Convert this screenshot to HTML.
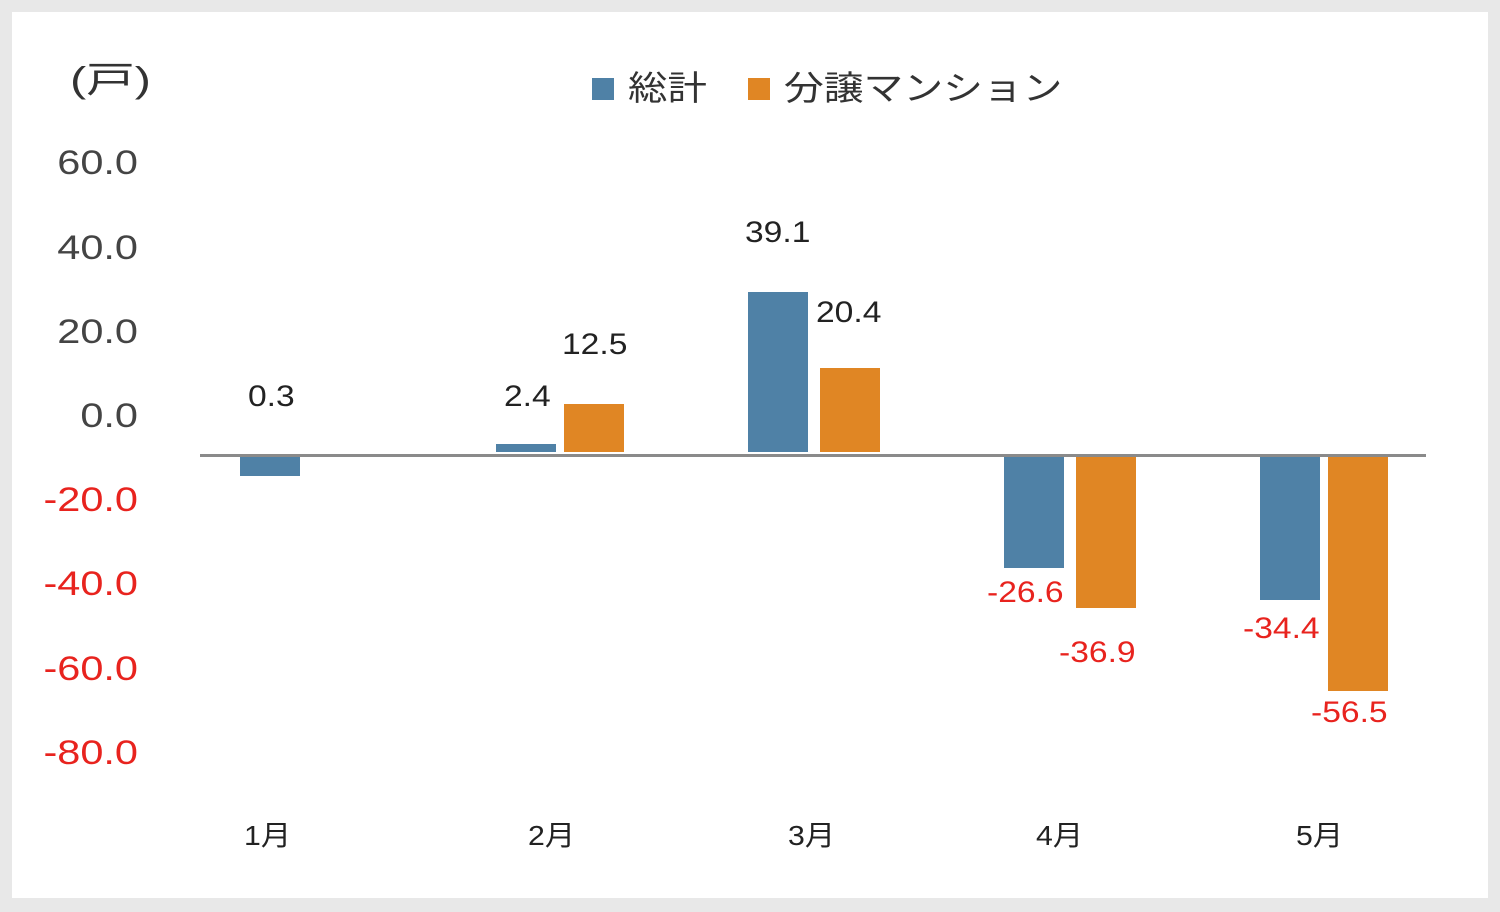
<!DOCTYPE html>
<html><head><meta charset="utf-8"><style>
body{margin:0;width:1500px;height:912px;background:#e8e8e8;overflow:hidden;font-family:"Liberation Sans","Noto Sans CJK JP",sans-serif;}
#p{position:absolute;left:12px;top:12px;width:1476px;height:886px;background:#fff;}
.t{position:absolute;white-space:nowrap;line-height:1;transform-origin:left top;}
.y{font-size:34px;color:#444;width:120px;text-align:right;left:18px;transform:scaleX(1.22);transform-origin:right top;}
.b{position:absolute;}
.bl{background:#4f81a6;}.or{background:#e08624;}
.v{font-size:30px;color:#222;transform:scaleX(1.12);}
.m{font-size:28px;color:#222;transform:scaleX(1.08);}
.r{color:#e8231e;}
</style></head><body>
<div id="p"></div>
<div class="t" style="left:70px;top:62px;font-size:36px;color:#333;transform:scaleX(1.35);">(戸)</div>
<div class="b bl" style="left:592px;top:78px;width:22px;height:22px"></div>
<div class="t" style="left:628px;top:72px;font-size:34px;color:#333;transform:scaleX(1.16);">総計</div>
<div class="b or" style="left:748px;top:78px;width:22px;height:22px"></div>
<div class="t" style="left:784px;top:72px;font-size:34px;color:#333;transform:scaleX(1.17);">分譲マンション</div>
<div class="t y" style="top:146px">60.0</div>
<div class="t y" style="top:231px">40.0</div>
<div class="t y" style="top:315px">20.0</div>
<div class="t y" style="top:399px">0.0</div>
<div class="t y r" style="top:483px">-20.0</div>
<div class="t y r" style="top:567px">-40.0</div>
<div class="t y r" style="top:652px">-60.0</div>
<div class="t y r" style="top:736px">-80.0</div>
<div class="b" style="left:200px;top:454px;width:1226px;height:3px;background:#8a8a8a"></div>
<div class="b bl" style="left:240px;top:457px;width:60px;height:19px"></div>
<div class="b bl" style="left:496px;top:444px;width:60px;height:8px"></div>
<div class="b or" style="left:564px;top:404px;width:60px;height:48px"></div>
<div class="b bl" style="left:748px;top:292px;width:60px;height:160px"></div>
<div class="b or" style="left:820px;top:368px;width:60px;height:84px"></div>
<div class="b bl" style="left:1004px;top:457px;width:60px;height:111px"></div>
<div class="b or" style="left:1076px;top:457px;width:60px;height:151px"></div>
<div class="b bl" style="left:1260px;top:457px;width:60px;height:143px"></div>
<div class="b or" style="left:1328px;top:457px;width:60px;height:234px"></div>
<div class="t v" style="left:248px;top:382px">0.3</div>
<div class="t v" style="left:504px;top:382px">2.4</div>
<div class="t v" style="left:562px;top:330px">12.5</div>
<div class="t v" style="left:745px;top:218px">39.1</div>
<div class="t v" style="left:816px;top:298px">20.4</div>
<div class="t v r" style="left:987px;top:578px">-26.6</div>
<div class="t v r" style="left:1059px;top:638px">-36.9</div>
<div class="t v r" style="left:1243px;top:614px">-34.4</div>
<div class="t v r" style="left:1311px;top:698px">-56.5</div>
<div class="t m" style="left:244px;top:822px">1月</div>
<div class="t m" style="left:528px;top:822px">2月</div>
<div class="t m" style="left:788px;top:822px">3月</div>
<div class="t m" style="left:1036px;top:822px">4月</div>
<div class="t m" style="left:1296px;top:822px">5月</div>
</body></html>
